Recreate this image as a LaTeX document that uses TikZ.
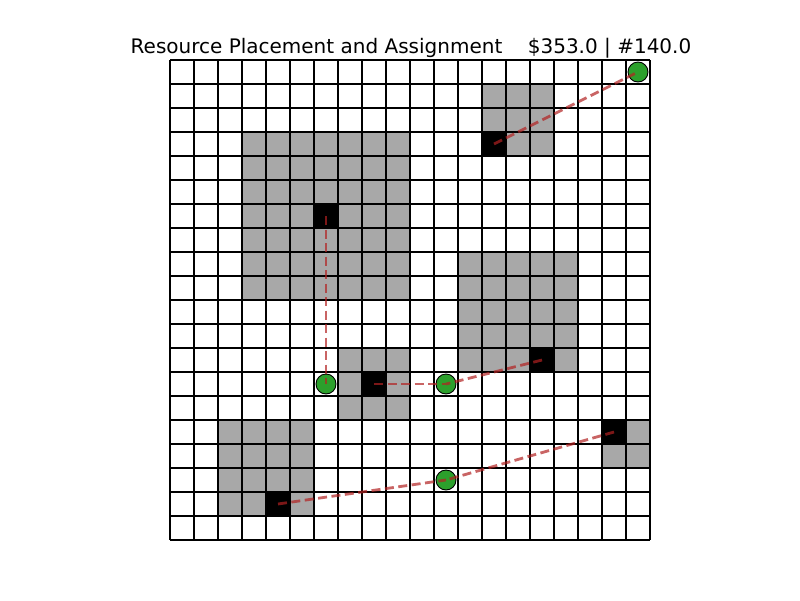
\documentclass[tikz,border=0pt]{standalone}
\usepackage{fontspec}
\setmainfont{DejaVu Sans}
\definecolor{cellgray}{HTML}{A8A8A8}
\definecolor{resgreen}{HTML}{2CA02C}
\definecolor{linkred}{HTML}{B22222}
\begin{document}
\begin{tikzpicture}[x=1pt,y=-1pt,
  zone/.style={fill=cellgray},
  blackcell/.style={rectangle,fill=black,draw=none,minimum size=24pt,inner sep=0pt},
  resource/.style={circle,fill=resgreen,draw=black,line width=0.9pt,minimum size=20pt,inner sep=0pt},
  gridline/.style={draw=black,line width=1.3pt},
  link/.style={draw=linkred,opacity=0.7,line width=2.8pt,dash pattern=on 9pt off 4.5pt}
]
\useasboundingbox (0,0) rectangle (800,600);
% title
\node[anchor=base,font=\fontsize{20pt}{24pt}\selectfont,inner sep=0pt] (title) at (411,53)
  {Resource Placement and Assignment\hspace{25.5pt}\$353.0 | \#140.0};
% gray zones
\fill[zone] (482,84) rectangle (554,156);
\fill[zone] (242,132) rectangle (410,300);
\fill[zone] (458,252) rectangle (578,372);
\fill[zone] (338,348) rectangle (410,420);
\fill[zone] (602,420) rectangle (650,468);
\fill[zone] (218,420) rectangle (314,516);
% black cells
\node[blackcell] (b1) at (494,144) {};
\node[blackcell] (b2) at (326,216) {};
\node[blackcell] (b3) at (542,360) {};
\node[blackcell] (b4) at (374,384) {};
\node[blackcell] (b5) at (614,432) {};
\node[blackcell] (b6) at (278,504) {};
% grid
\foreach \i in {0,...,20} {
  \draw[gridline] ({170+24*\i},60) -- ({170+24*\i},540);
  \draw[gridline] (170,{60+24*\i}) -- (650,{60+24*\i});
}
% resources
\node[resource] (g1) at (638,72) {};
\node[resource] (g2) at (326,384) {};
\node[resource] (g3) at (446,384) {};
\node[resource] (g4) at (446,480) {};
% links
\draw[link] (b1.center) -- (g1.center);
\draw[link] (b2.center) -- (g2.center);
\draw[link] (b4.center) -- (g3.center);
\draw[link] (b3.center) -- (g3.center);
\draw[link] (b6.center) -- (g4.center);
\draw[link] (b5.center) -- (g4.center);
\end{tikzpicture}
\end{document}
